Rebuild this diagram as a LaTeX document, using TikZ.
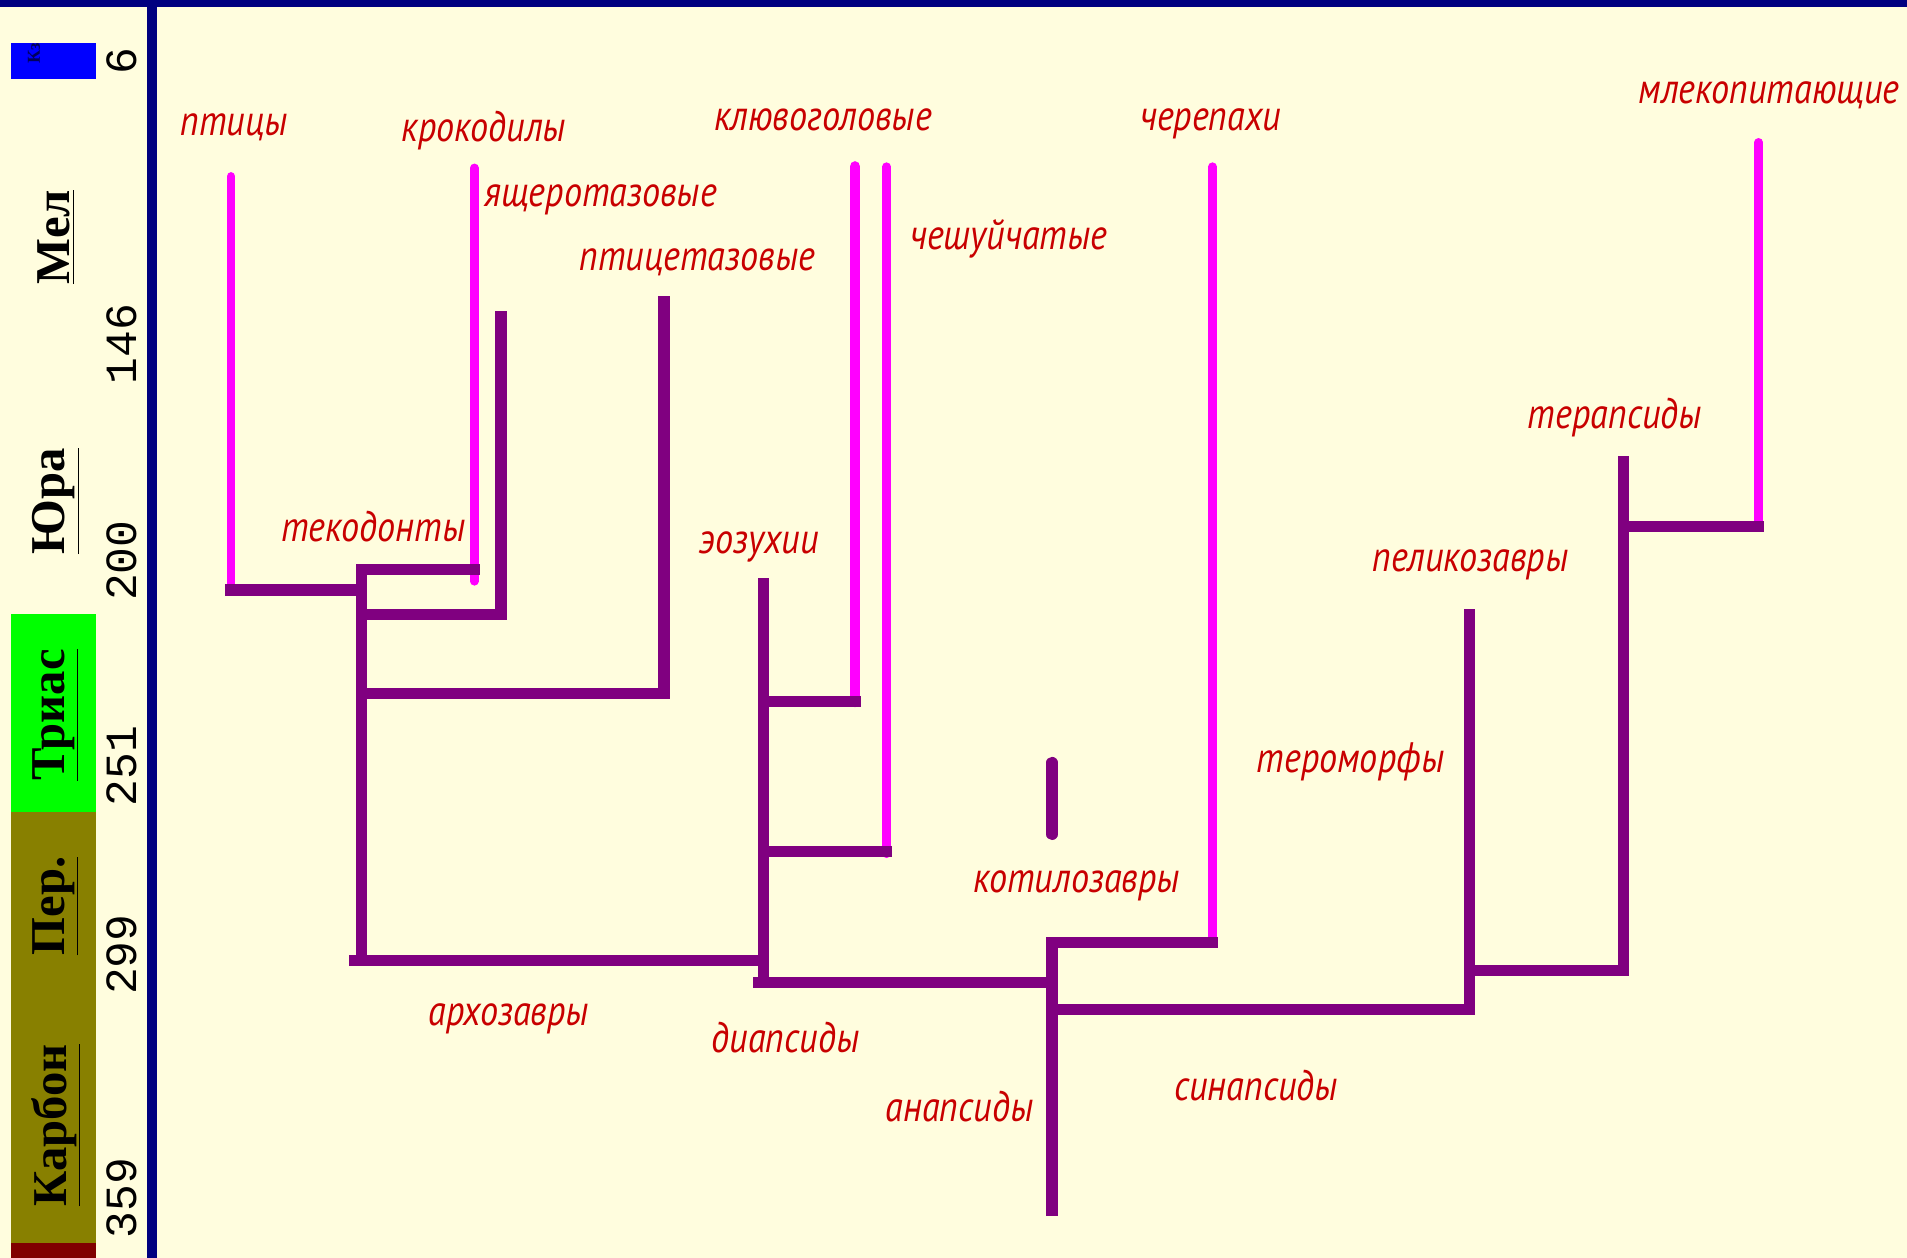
\documentclass[tikz,border=0pt]{standalone}
\usepackage{fontspec}
\setmainfont{Liberation Serif}
\newfontfamily\lblfont[FakeStretch=0.85]{PT Sans}
\newfontfamily\numfont{Liberation Mono}
\definecolor{cream}{RGB}{255,253,222}
\definecolor{navy}{RGB}{0,0,128}
\definecolor{purp}{RGB}{128,0,128}
\definecolor{mag}{RGB}{255,0,255}
\definecolor{lblred}{RGB}{200,0,0}
\definecolor{bblue}{RGB}{0,0,255}
\definecolor{bgreen}{RGB}{0,255,0}
\definecolor{bolive}{RGB}{136,128,0}
\definecolor{bdred}{RGB}{128,0,0}
\tikzset{
  stem/.style={line width=5.6pt, draw=purp, line cap=rect},
  tipline/.style={line width=4.2pt, draw=mag, line cap=round},
  tipthick/.style={line width=5.4pt, draw=mag, line cap=round},
  lbl/.style={anchor=base west, inner sep=0pt, text=lblred, font=\fontsize{21}{21}\lblfont\itshape},
  era/.style={rotate=90, inner sep=0pt, font=\fontsize{24}{24}\selectfont\bfseries},
  num/.style={rotate=90, inner sep=0pt, font=\fontsize{22}{22}\numfont},
}
\begin{document}
\begin{tikzpicture}[x=0.6pt,y=-0.6pt]
\useasboundingbox (0,0) rectangle (1568,1034);
\fill[cream] (0,0) rectangle (1568,1034);
\fill[navy] (0,0) rectangle (1568,6);
\fill[navy] (121,0) rectangle (129,1034);
% time strip
\fill[bblue] (9,35) rectangle (79,65);
\node[rotate=90, inner sep=0pt, text=navy!70!black, font=\fontsize{9}{9}\selectfont\bfseries] (kz) at (28,44) {Кз};
\fill[bgreen] (9,505) rectangle (79,668);
\fill[bolive] (9,668) rectangle (79,1022);
\fill[bdred] (9,1022) rectangle (79,1034);
\node[era] (mel) at (46,195) {\underline{Мел}};
\node[era] (yura) at (46,412) {\underline{Юра}};
\node[era] (trias) at (46,588) {\underline{Триас}};
\node[era] (perm) at (46,745) {\underline{Пер.}};
\node[era] (karb) at (46,925) {\underline{Карбон}};
\node[num] (n6) at (100,50) {6};
\node[num] (n146) at (100,283) {146};
\node[num] (n200) at (100,461) {200};
\node[num] (n251) at (100,630) {251};
\node[num] (n299) at (100,785) {299};
\node[num] (n359) at (100,985) {359};
% coordinates of the tree
\coordinate (ptT) at (190,145);  \coordinate (ptB) at (190,485);
\coordinate (aT) at (297,468);   \coordinate (aB) at (297,790);
\coordinate (krT) at (390,138);  \coordinate (krB) at (390,478);
\coordinate (krJ) at (390,468);
\coordinate (yaT) at (412,260);  \coordinate (yaB) at (412,505);
\coordinate (yaJ) at (297,505);
\coordinate (pzT) at (546,248);  \coordinate (pzB) at (546,570);
\coordinate (pzJ) at (297,570);
\coordinate (ptJ) at (297,485);
\coordinate (arL) at (292,790);  \coordinate (arR) at (628,790);
\coordinate (eoT) at (628,480);  \coordinate (eoB) at (628,808);
\coordinate (klT) at (703,137);  \coordinate (klB) at (703,577);
\coordinate (klJ) at (628,577);
\coordinate (chT) at (729,137);  \coordinate (chB) at (729,702);
\coordinate (chJ) at (628,700);  \coordinate (chR) at (729,700);
\coordinate (diL) at (624,808);  \coordinate (diR) at (865,808);
\coordinate (anT) at (865,775);  \coordinate (anB) at (865,995);
\coordinate (koT) at (865,627);  \coordinate (koB) at (865,686);
\coordinate (cpT) at (997,137);  \coordinate (cpB) at (997,775);
\coordinate (cpJ) at (865,775);
\coordinate (syL) at (865,830);  \coordinate (syR) at (1208,830);
\coordinate (peT) at (1208,505); \coordinate (peB) at (1208,830);
\coordinate (peJ) at (1208,798); \coordinate (teJ) at (1335,798);
\coordinate (teT) at (1335,380);
\coordinate (mlT) at (1446,117); \coordinate (mlB) at (1446,433);
\coordinate (teM) at (1335,433);
% magenta tips
\draw[tipline] (ptT) -- (ptB);
\draw[tipline] (krT) -- (krB);
\draw[tipthick] (klT) -- (klB);
\draw[tipline] (chT) -- (chB);
\draw[tipline] (cpT) -- (cpB);
\draw[tipline] (mlT) -- (mlB);
% purple stems
\draw[stem] (ptB) -- (ptJ);
\draw[stem] (aT) -- (aB);
\draw[stem] (aT) -- (krJ);
\draw[stem] (yaJ) -- (yaB) -- (yaT);
\draw[stem] (pzJ) -- (pzB) -- (pzT);
\draw[stem] (arL) -- (arR);
\draw[stem] (eoT) -- (eoB);
\draw[stem] (klJ) -- (klB);
\draw[stem] (chJ) -- (chR);
\draw[stem] (diL) -- (diR);
\draw[stem] (anT) -- (anB);
\draw[stem, line cap=round] (koT) -- (koB);
\draw[stem] (cpJ) -- (cpB);
\draw[stem] (syL) -- (syR);
\draw[stem] (peT) -- (peB);
\draw[stem] (peJ) -- (teJ);
\draw[stem] (teT) -- (teJ);
\draw[stem] (teM) -- (mlB);
% labels
\node[lbl] (l1) at (148,111) {птицы};
\node[lbl] (l2) at (330,116) {крокодилы};
\node[lbl] (l3) at (398,170) {ящеротазовые};
\node[lbl] (l4) at (476,222) {птицетазовые};
\node[lbl] (l5) at (587,107) {клювоголовые};
\node[lbl] (l6) at (748,205) {чешуйчатые};
\node[lbl] (l7) at (937,107) {черепахи};
\node[lbl] (l8) at (1347,85) {млекопитающие};
\node[lbl] (l9) at (1256,352) {терапсиды};
\node[lbl] (l10) at (1128,470) {пеликозавры};
\node[lbl] (l11) at (1033,635) {тероморфы};
\node[lbl] (l12) at (800,734) {котилозавры};
\node[lbl] (l13) at (231,445) {текодонты};
\node[lbl] (l14) at (575,455) {эозухии};
\node[lbl] (l15) at (352,843) {архозавры};
\node[lbl] (l16) at (585,865) {диапсиды};
\node[lbl] (l17) at (728,922) {анапсиды};
\node[lbl] (l18) at (965,905) {синапсиды};
\end{tikzpicture}
\end{document}
